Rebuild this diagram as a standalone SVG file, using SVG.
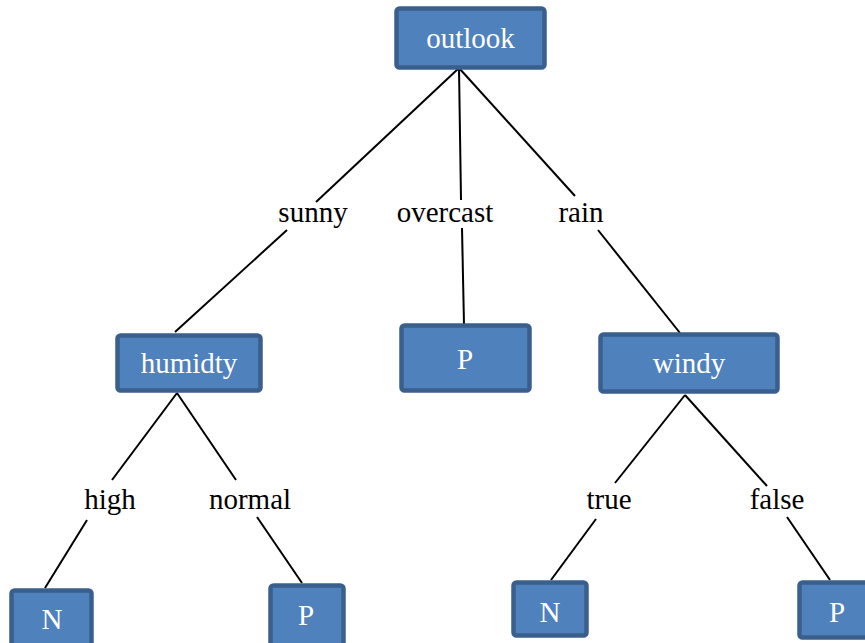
<svg xmlns="http://www.w3.org/2000/svg" width="865" height="643" viewBox="0 0 865 643">
<style>
.box{fill:#4F81BD;stroke:#3A5F8C;stroke-width:4.5}
.bt{font-family:'Liberation Serif','Times New Roman',Tinos,'DejaVu Serif',serif;font-size:29px;fill:#FFFFFF;text-anchor:middle}
.lb{font-family:'Liberation Serif','Times New Roman',Tinos,'DejaVu Serif',serif;font-size:29px;fill:#000000;text-anchor:middle}
.ln{stroke:#000;stroke-width:2;fill:none}
</style>
<rect width="865" height="643" fill="#FFFFFF"/>
<g id="connectors">
<line class="ln" x1="459" y1="68" x2="316" y2="202"/>
<line class="ln" x1="287" y1="230" x2="175" y2="332"/>
<line class="ln" x1="459" y1="68" x2="461" y2="200"/>
<line class="ln" x1="462" y1="228" x2="464" y2="325"/>
<line class="ln" x1="459" y1="68" x2="575" y2="196"/>
<line class="ln" x1="598" y1="230" x2="680" y2="333"/>
<line class="ln" x1="177" y1="393" x2="112" y2="480"/>
<line class="ln" x1="87" y1="520" x2="45" y2="588"/>
<line class="ln" x1="177" y1="393" x2="236" y2="480"/>
<line class="ln" x1="257" y1="517" x2="302" y2="583"/>
<line class="ln" x1="685" y1="395" x2="615" y2="483"/>
<line class="ln" x1="596" y1="519" x2="551" y2="580"/>
<line class="ln" x1="685" y1="395" x2="767" y2="486"/>
<line class="ln" x1="787" y1="517" x2="830" y2="580"/>
</g>
<g id="labels">
<text class="lb" x="313" y="222">sunny</text>
<text class="lb" x="445" y="222">overcast</text>
<text class="lb" x="581" y="222">rain</text>
<text class="lb" x="110" y="509">high</text>
<text class="lb" x="250" y="509">normal</text>
<text class="lb" x="609" y="509">true</text>
<text class="lb" x="777" y="509">false</text>
</g>
<g id="outlook"><rect class="box" x="396.5" y="8.5" width="148" height="59" rx="3"/><text class="bt" x="470.5" y="48">outlook</text></g>
<g id="humidty"><rect class="box" x="117.5" y="335.5" width="143" height="55" rx="3"/><text class="bt" x="189" y="373">humidty</text></g>
<g id="p_overcast"><rect class="box" x="401.5" y="325.5" width="128" height="65" rx="3"/><text class="bt" x="465" y="369">P</text></g>
<g id="windy"><rect class="box" x="600.5" y="334.5" width="177" height="57" rx="3"/><text class="bt" x="689" y="373">windy</text></g>
<g id="n_high"><rect class="box" x="11.5" y="590.5" width="80" height="60" rx="3"/><text class="bt" x="52" y="629">N</text></g>
<g id="p_normal"><rect class="box" x="270.5" y="585.5" width="73" height="60" rx="3"/><text class="bt" x="306" y="625">P</text></g>
<g id="n_true"><rect class="box" x="513.5" y="582.5" width="73" height="53" rx="3"/><text class="bt" x="550" y="622">N</text></g>
<g id="p_false"><rect class="box" x="799.5" y="582.5" width="70" height="55" rx="3"/><text class="bt" x="837" y="622">P</text></g>
</svg>
